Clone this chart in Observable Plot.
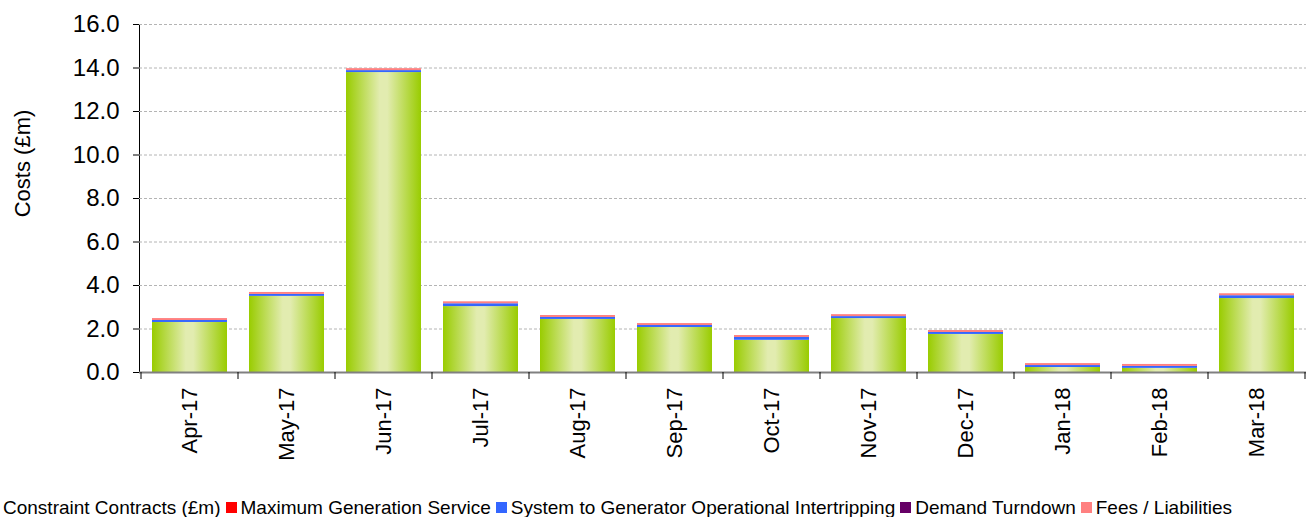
<!DOCTYPE html>
<html>
<head>
<meta charset="utf-8">
<script src="https://cdn.jsdelivr.net/npm/d3@7"></script>
<script src="https://cdn.jsdelivr.net/npm/@observablehq/plot@0.6"></script>
<style>
  html, body { margin: 0; padding: 0; background: #fff; overflow: hidden; }
  body { width: 1307px; height: 517px; font-family: "Liberation Sans", Arial, sans-serif; }
  #legend { white-space: nowrap; font-size: 19px; color: #000; margin-left: -12px; line-height: 22px; margin-top: 6px; }
  #legend .item { display: inline-flex; align-items: center; margin-right: 5px; }
  #legend .sw { display: inline-block; width: 11px; height: 11px; margin-right: 4px; }
</style>
</head>
<body>
<div id="chart"></div>
<div id="legend"></div>
<script>
const months = ["Apr-17","May-17","Jun-17","Jul-17","Aug-17","Sep-17","Oct-17","Nov-17","Dec-17","Jan-18","Feb-18","Mar-18"];
const constraintContracts = [2.30, 3.50, 13.79, 3.03, 2.44, 2.07, 1.48, 2.48, 1.75, 0.23, 0.19, 3.40];
const maxGeneration       = [0, 0, 0, 0, 0, 0, 0, 0, 0, 0, 0, 0];
const intertripping       = [0.09, 0.09, 0.09, 0.13, 0.09, 0.09, 0.13, 0.09, 0.09, 0.09, 0.09, 0.13];
const demandTurndown      = [0, 0, 0, 0, 0, 0, 0, 0, 0, 0, 0, 0];
const feesLiabilities     = [0.09, 0.09, 0.09, 0.09, 0.09, 0.09, 0.09, 0.09, 0.09, 0.09, 0.09, 0.09];
const seriesNames = ["Constraint Contracts (£m)", "Maximum Generation Service", "System to Generator Operational Intertripping", "Demand Turndown", "Fees / Liabilities"];
const seriesColors = ["url(#ccGrad)", "#ff0000", "#3366ff", "#660066", "#ff8080"];
const legendSwatches = ["#99cc00", "#ff0000", "#3366ff", "#660066", "#ff8080"];
const yTicks = [0, 2, 4, 6, 8, 10, 12, 14, 16];
const yTitle = "Costs (£m)";

const seriesValues = [constraintContracts, maxGeneration, intertripping, demandTurndown, feesLiabilities];
const data = seriesNames.flatMap((s, i) => months.map((m, j) => ({month: m, series: s, value: seriesValues[i][j]})));

const chart = Plot.plot({
  width: 1307,
  height: 490,
  marginLeft: 139,
  marginRight: 1,
  marginTop: 24,
  marginBottom: 118,
  style: {fontFamily: "'Liberation Sans', Arial, sans-serif", fontSize: "22px", color: "#000", background: "#fff"},
  x: {domain: months, paddingInner: 0.23, paddingOuter: 0.115, label: null, tickRotate: -90, tickSize: 0, tickPadding: 15},
  y: {domain: [0, 16], ticks: yTicks, tickFormat: d => d.toFixed(1), label: null, tickSize: 6, tickPadding: 14, line: true},
  color: {domain: seriesNames, range: seriesColors},
  marks: [
    Plot.ruleY(yTicks.filter(d => d > 0), {stroke: "#b4b4b4", strokeDasharray: "3,2"}),
    Plot.barY(data, {x: "month", y: "value", fill: "series"}),
    Plot.ruleY([0], {stroke: "#808080", strokeWidth: 2}),
    Plot.text([yTitle], {frameAnchor: "left", textAnchor: "middle", dx: -117, dy: -35, rotate: -90, fontSize: 22, fill: "#000"})
  ]
});

document.getElementById("chart").appendChild(chart);

// larger y tick labels as in the reference
d3.select(chart).selectAll("[aria-label='y-axis tick label'] text, [aria-label='y-axis'] text").style("font-size", "24px");

// gradient for constraint contracts bars
const svg = d3.select(chart);
const grad = svg.append("defs").append("linearGradient")
  .attr("id", "ccGrad").attr("x1", "0%").attr("x2", "100%").attr("y1", "0%").attr("y2", "0%");
[[0, "#99cc00"], [0.45, "#e2ecb0"], [0.55, "#e2ecb0"], [1, "#99cc00"]].forEach(([o, c]) =>
  grad.append("stop").attr("offset", o).attr("stop-color", c));

// x ticks at band boundaries, using the chart's own scales
const xs = chart.scale("x");
const ys = chart.scale("y");
const gap = (xs.step - xs.bandwidth) / 2;
const bounds = months.map(m => xs.apply(m) - gap).concat([xs.apply(months[months.length - 1]) + xs.bandwidth + gap]);
const y0 = ys.apply(0);
svg.append("g").attr("stroke", "#000").selectAll("line").data(bounds).join("line")
  .attr("x1", d => d).attr("x2", d => d).attr("y1", y0).attr("y2", y0 + 7);

// legend
const legend = d3.select("#legend");
seriesNames.forEach((s, i) => {
  const it = legend.append("span").attr("class", "item");
  it.append("span").attr("class", "sw").style("background", legendSwatches[i]);
  it.append("span").text(s);
});
</script>
</body>
</html>
